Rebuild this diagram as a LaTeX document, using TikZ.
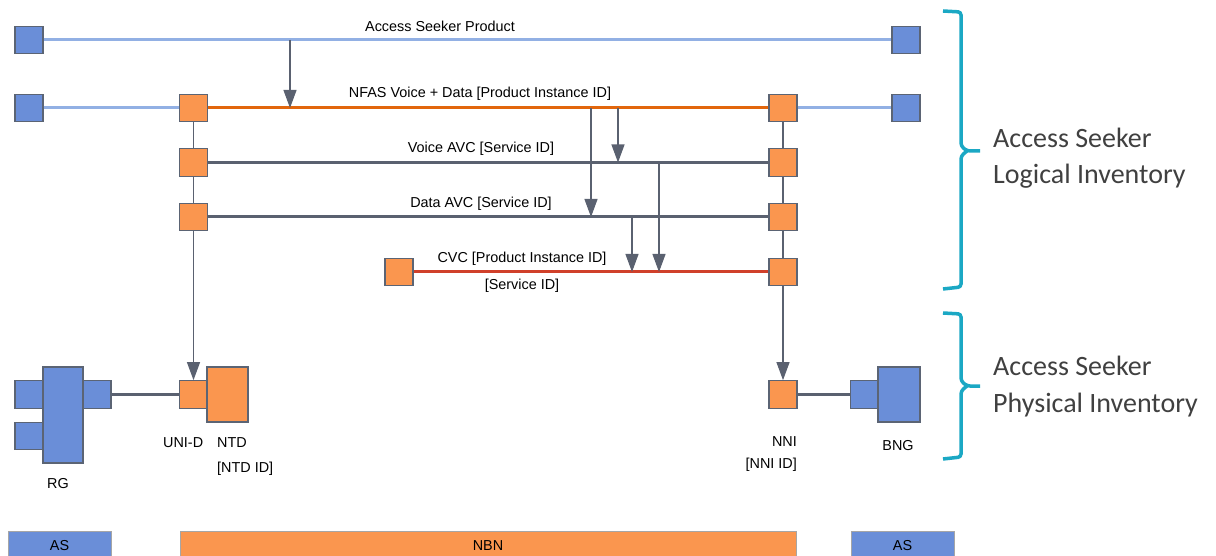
\documentclass[tikz,border=0pt]{standalone}
\usepackage{fontspec}
\setmainfont{Liberation Sans}
\newfontfamily\invfont{Carlito}
\usetikzlibrary{arrows.meta,positioning}
\definecolor{asblue}{HTML}{6A8ED8}
\definecolor{nbnorange}{HTML}{FA964F}
\definecolor{boxedge}{HTML}{5B6474}
\definecolor{lineblue}{HTML}{92B0E4}
\definecolor{nfasorange}{HTML}{E2660C}
\definecolor{cvcred}{HTML}{D0402A}
\definecolor{avcgray}{HTML}{5A6170}
\definecolor{bracecyan}{HTML}{1BA8C4}
\definecolor{invgray}{HTML}{404040}

\begin{document}
\begin{tikzpicture}[x=1pt,y=-1pt,
    every node/.style={font=\fontsize{14.4}{17}\selectfont,inner sep=0pt},
    sq/.style={draw=boxedge,line width=1.2pt,minimum width=28pt,minimum height=27.5pt},
    bluesq/.style={sq,fill=asblue},
    orangesq/.style={sq,fill=nbnorange},
    bar/.style={draw=gray!70,line width=1pt,minimum height=30pt},
    asline/.style={lineblue,line width=3pt},
    nfasline/.style={nfasorange,line width=3pt},
    avcline/.style={avcgray,line width=3pt},
    cvcline/.style={cvcred,line width=3pt},
    link/.style={avcgray,line width=1.1pt},
    arr/.style={link,-{Triangle[width=13pt,length=18pt]}},
    brace/.style={bracecyan,line width=3.5pt,rounded corners=3pt},
    inv/.style={font=\invfont\fontsize{28}{34}\selectfont,text=invgray,anchor=base west}]
  \useasboundingbox (0,0) rectangle (1216,556);

  % logical rows
  \node[bluesq] (ap-l) at (29,40) {};
  \node[bluesq] (ap-r) at (906,40) {};
  \node[bluesq] (nfas-as) at (29,108) {};
  \node[orangesq] (nfas-l) at (193.5,108) {};
  \node[orangesq] (nfas-r) at (783,108) {};
  \node[bluesq] (nfas-bng) at (906,108) {};
  \node[orangesq] (voice-l) at (193.5,162.5) {};
  \node[orangesq] (voice-r) at (783,162.5) {};
  \node[orangesq] (data-l) at (193.5,217) {};
  \node[orangesq] (data-r) at (783,217) {};
  \node[orangesq] (cvc-l) at (399,272) {};
  \node[orangesq] (cvc-r) at (783,272) {};

  \draw[asline] (ap-l) -- (ap-r);
  \draw[asline] (nfas-as) -- (nfas-l);
  \draw[nfasline] (nfas-l) -- (nfas-r);
  \draw[asline] (nfas-r) -- (nfas-bng);
  \draw[avcline] (voice-l) -- (voice-r);
  \draw[avcline] (data-l) -- (data-r);
  \draw[cvcline] (cvc-l) -- (cvc-r);

  \node[anchor=base] (ap-txt) at (440,32) {Access Seeker Product};
  \node[anchor=base] (nfas-txt) at (480,98) {NFAS Voice + Data [Product Instance ID]};
  \node[anchor=base] (voice-txt) at (481,153) {Voice AVC [Service ID]};
  \node[anchor=base] (data-txt) at (481,208) {Data AVC [Service ID]};
  \node[anchor=base] (cvc-txt) at (522,263) {CVC [Product Instance ID]};
  \node[anchor=base] (cvc-svc) at (522,290) {[Service ID]};

  % drops between products
  \coordinate (ap-drop) at (290,40);
  \coordinate (nfas-drop1) at (591,108);
  \coordinate (nfas-drop2) at (618,108);
  \coordinate (voice-drop) at (659,162.5);
  \coordinate (data-drop) at (632,217);
  \draw[arr] (ap-drop) -- (ap-drop |- nfas-l);
  \draw[arr] (nfas-drop1) -- (nfas-drop1 |- data-l);
  \draw[arr] (nfas-drop2) -- (nfas-drop2 |- voice-l);
  \draw[arr] (voice-drop) -- (voice-drop |- cvc-l);
  \draw[arr] (data-drop) -- (data-drop |- cvc-l);

  % physical
  \node[fill=asblue,draw=boxedge,line width=1.2pt,minimum width=40pt,minimum height=96pt] (rg) at (63,415) {};
  \node[bluesq] (rg-a) at (29,394.5) {};
  \node[bluesq] (rg-b) at (29,436) {};
  \node[bluesq] (rg-c) at (97,394.5) {};
  \node[orangesq] (uni) at (193.5,394.5) {};
  \node[orangesq,minimum width=41pt,minimum height=55pt] (ntd) at (227.5,394.5) {};
  \node[orangesq] (nni) at (783,394.5) {};
  \node[bluesq] (bng-p) at (864.5,394.5) {};
  \node[bluesq,minimum width=42pt,minimum height=55pt] (bng) at (899,394.5) {};

  \draw[avcline] (rg-c) -- (uni);
  \draw[avcline] (nni) -- (bng-p);

  \draw[link] (nfas-l) -- (voice-l);
  \draw[link] (voice-l) -- (data-l);
  \draw[arr] (data-l) -- (uni);
  \draw[link] (nfas-r) -- (voice-r);
  \draw[link] (voice-r) -- (data-r);
  \draw[link] (data-r) -- (cvc-r);
  \draw[arr] (cvc-r) -- (nni);

  \node[anchor=base] (rg-txt) at (58,488) {RG};
  \node[anchor=base west] (uni-txt) at (163,447) {UNI-D};
  \node[anchor=base west] (ntd-txt) at (217,447) {NTD};
  \node[anchor=base west] (ntd-id) at (217,472) {[NTD ID]};
  \node[anchor=base east] (nni-txt) at (797,446) {NNI};
  \node[anchor=base east] (nni-id) at (797,468) {[NNI ID]};
  \node[anchor=base] (bng-txt) at (898,450) {BNG};

  % ownership bars
  \node[bar,fill=asblue,minimum width=103pt] (as-l) at (59.5,546) {AS};
  \node[bar,fill=nbnorange,minimum width=616pt] (nbn) at (488,546) {NBN};
  \node[bar,fill=asblue,minimum width=103pt] (as-r) at (902.5,546) {AS};

  % inventory braces
  \draw[brace] (943,11) -- (961,12) -- (961,146) -- (967,151) -- (980,151);
  \draw[brace] (967,151) -- (961,156) -- (961,287) -- (943,289);
  \draw[brace] (943,313) -- (961,314) -- (961,381) -- (967,386) -- (980,386);
  \draw[brace] (967,386) -- (961,391) -- (961,457) -- (943,459);
  \node[inv] (log-a) at (993,148) {Access Seeker};
  \node[inv] (log-b) at (993,184) {Logical Inventory};
  \node[inv] (phy-a) at (993,375) {Access Seeker};
  \node[inv] (phy-b) at (993,412) {Physical Inventory};
\end{tikzpicture}
\end{document}
